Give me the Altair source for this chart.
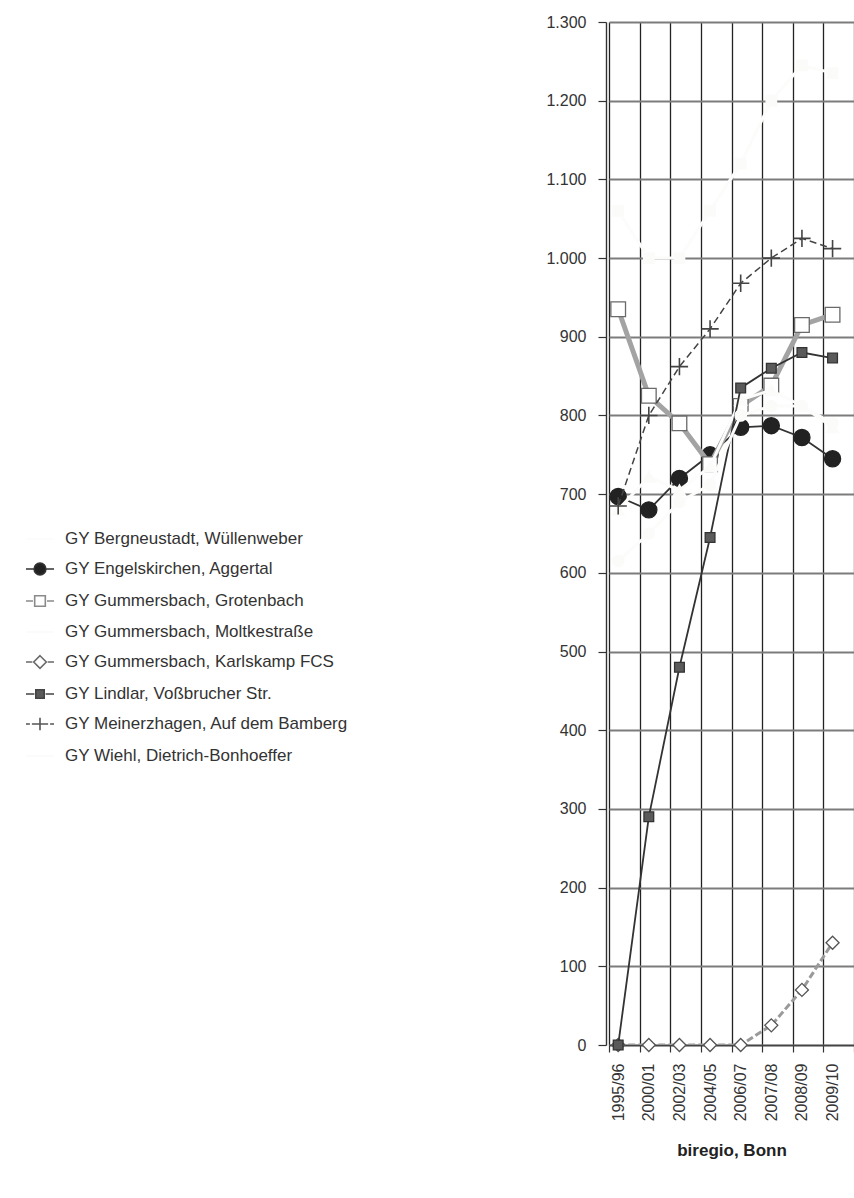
import json
import altair as alt
import pandas as pd

# School years on the category axis
periods = ["1995/96", "2000/01", "2002/03", "2004/05", "2006/07", "2007/08", "2008/09", "2009/10"]

series_names = [
    "GY Bergneustadt, Wüllenweber",
    "GY Engelskirchen, Aggertal",
    "GY Gummersbach, Grotenbach",
    "GY Gummersbach, Moltkestraße",
    "GY Gummersbach, Karlskamp FCS",
    "GY Lindlar, Voßbrucher Str.",
    "GY Meinerzhagen, Auf dem Bamberg",
    "GY Wiehl, Dietrich-Bonhoeffer",
]

# Pupil numbers per school and year
bergneustadt = [1060, 1000, 1000, 1060, 1120, 1200, 1245, 1235]
engelskirchen = [697, 680, 720, 750, 785, 787, 772, 745]
grotenbach = [935, 825, 790, 738, 812, 838, 915, 928]
moltkestrasse = [680, 722, 705, 735, 820, 832, 812, 785]
karlskamp = [0, 0, 0, 0, 0, 25, 70, 130]
lindlar = [0, 290, 480, 645, 835, 860, 880, 873]
meinerzhagen = [685, 800, 862, 910, 968, 1000, 1025, 1012]
wiehl = [615, 650, 690, 712, 800, 812, 812, 790]

values_by_series = [bergneustadt, engelskirchen, grotenbach, moltkestrasse,
                    karlskamp, lindlar, meinerzhagen, wiehl]

rows = []
for name, vals in zip(series_names, values_by_series):
    for i, (p, v) in enumerate(zip(periods, vals)):
        rows.append({"series": name, "period": p, "idx": i, "value": v})
df = pd.DataFrame(rows)

FONT = "Liberation Sans"
TEXT = "#333333"
SHIFT = 0.3  # category gridlines sit a little left of each data point

boundaries = [round(k - SHIFT, 2) for k in range(len(periods) + 1)]
label_expr = (
    f"round(datum.value + {SHIFT}) < {len(periods)} ? "
    f"{json.dumps(periods)}[round(datum.value + {SHIFT})] : ''"
)

PLOT_W = 245
BAND = PLOT_W / (len(periods))

x_enc = alt.X(
    "idx:Q",
    scale=alt.Scale(domain=[-SHIFT, len(periods) - SHIFT], nice=False, zero=False),
    axis=alt.Axis(
        values=boundaries,
        labelExpr=label_expr,
        labelAngle=270,
        labelAlign="right",
        labelBaseline="middle",
        labelOffset=SHIFT * BAND,
        labelOverlap=False,
        labelFlush=False,
        labelBound=False,
        labelFont=FONT,
        labelFontSize=16,
        labelColor=TEXT,
        labelPadding=11,
        tickSize=7,
        tickColor="#333333",
        tickWidth=1.2,
        grid=True,
        gridColor="#222222",
        gridWidth=1.3,
        domainColor="#444444",
        domainWidth=1.5,
        title="biregio, Bonn",
        titleFont=FONT,
        titleFontSize=17,
        titleFontWeight="bold",
        titleColor="#222222",
        titlePadding=22,
    ),
)

y_enc = alt.Y(
    "value:Q",
    scale=alt.Scale(domain=[0, 1300], nice=False, zero=True),
    axis=alt.Axis(
        values=list(range(0, 1301, 100)),
        labelExpr="replace(format(datum.value, ','), ',', '.')",
        labelFont=FONT,
        labelFontSize=16,
        labelColor=TEXT,
        labelPadding=12,
        tickSize=8,
        tickColor="#333333",
        tickWidth=1.2,
        offset=3,
        grid=True,
        gridColor="#7c7c7c",
        gridWidth=2,
        domainColor="#333333",
        domainWidth=1.4,
        title=None,
    ),
)

# The three pale series are printed almost white
FAINT_LINE = "#fcfcfb"
FAINT_MARK = "#fbfbfa"

# Per-series drawing styles
styles = {
    series_names[0]: dict(lc=FAINT_LINE, lw=3, dash=None, shape="square", size=110, fill=FAINT_MARK, stroke=FAINT_MARK),
    series_names[1]: dict(lc="#333333", lw=1.8, dash=None, shape="circle", size=260, fill="#222222", stroke="#222222"),
    series_names[2]: dict(lc="#a3a3a3", lw=5, dash=None, shape="square", size=215, fill="#ffffff", stroke="#6a6a6a"),
    series_names[3]: dict(lc=FAINT_LINE, lw=3, dash=None, shape="triangle-up", size=150, fill=FAINT_MARK, stroke=FAINT_MARK),
    series_names[4]: dict(lc="#9a9a9a", lw=3, dash=[7, 3], shape="diamond", size=170, fill="#ffffff", stroke="#555555"),
    series_names[5]: dict(lc="#333333", lw=1.8, dash=None, shape="square", size=95, fill="#5a5a5a", stroke="#333333"),
    series_names[6]: dict(lc="#444444", lw=1.5, dash=[7, 4], shape="M-1,0H1M0,-1V1", size=300, fill=None, stroke="#444444"),
    series_names[7]: dict(lc=FAINT_LINE, lw=3, dash=None, shape="circle", size=130, fill=FAINT_MARK, stroke=FAINT_MARK),
}

layers = []
for name in series_names:
    st = styles[name]
    base = alt.Chart(df).transform_filter(alt.datum.series == name)
    line_kwargs = dict(color=st["lc"], strokeWidth=st["lw"], clip=True)
    if st["dash"]:
        line_kwargs["strokeDash"] = st["dash"]
    layers.append(base.mark_line(**line_kwargs).encode(x=x_enc, y=y_enc))
    if st["fill"] is None:
        pt = base.mark_point(shape=st["shape"], size=st["size"], filled=False,
                             stroke=st["stroke"], strokeWidth=1.6, opacity=1)
    else:
        pt = base.mark_point(shape=st["shape"], size=st["size"], filled=True,
                             fill=st["fill"], stroke=st["stroke"], strokeWidth=1.3,
                             opacity=1)
    layers.append(pt.encode(x=x_enc, y=y_enc))

# Legend symbols: short line pieces with the series marker in the middle
legend_paths = [
    "M-1,0H1",
    "M-1,0H-0.45M0.45,0H1M-0.42,0A0.42,0.42 0 1,1 0.42,0A0.42,0.42 0 1,1 -0.42,0Z",
    "M-1,0H-0.5M0.5,0H1M-0.38,-0.38H0.38V0.38H-0.38Z",
    "M-1,0H1",
    "M-1,0H-0.55M0.55,0H1M0,-0.45L0.45,0L0,0.45L-0.45,0Z",
    "M-1,0H-0.4M0.4,0H1M-0.3,-0.3H0.3V0.3H-0.3Z",
    "M-1,0H-0.72M-0.58,0H-0.3M-0.3,0H0.3M0,-0.45V0.45M0.3,0H0.58M0.72,0H1",
    "M-1,0H1",
]
legend_fill = ["transparent", "#222222", "#ffffff", "transparent",
               "#ffffff", "#5a5a5a", "transparent", "transparent"]
legend_stroke = ["#fbfbfa", "#333333", "#8a8a8a", "#fbfbfa",
                 "#6a6a6a", "#444444", "#555555", "#fbfbfa"]

legend_df = pd.DataFrame({"series": series_names,
                          "idx": [None] * len(series_names),
                          "value": [None] * len(series_names)})

leg = alt.Legend(
    title=None,
    orient="none",
    legendX=-584,
    legendY=502,
    labelFont=FONT,
    labelFontSize=17,
    labelColor=TEXT,
    labelLimit=400,
    labelOffset=10,
    symbolSize=784,
    symbolStrokeWidth=1.6,
    symbolOpacity=1,
    rowPadding=7,
    padding=0,
)

legend_layer = alt.Chart(legend_df).mark_point(filled=False, opacity=1).encode(
    x=x_enc,
    y=y_enc,
    shape=alt.Shape("series:N", scale=alt.Scale(domain=series_names, range=legend_paths), legend=leg),
    fill=alt.Fill("series:N", scale=alt.Scale(domain=series_names, range=legend_fill), legend=leg),
    stroke=alt.Stroke("series:N", scale=alt.Scale(domain=series_names, range=legend_stroke), legend=leg),
)

chart = alt.layer(*layers, legend_layer).properties(
    width=PLOT_W,
    height=1023,
    padding={"left": 609, "top": 22, "right": 0, "bottom": 153},
    autosize=alt.AutoSizeParams(type="none"),
    background="#ffffff",
).configure_view(stroke=None)

chart.save("out.html", embed_options={"renderer": "svg", "actions": False})
